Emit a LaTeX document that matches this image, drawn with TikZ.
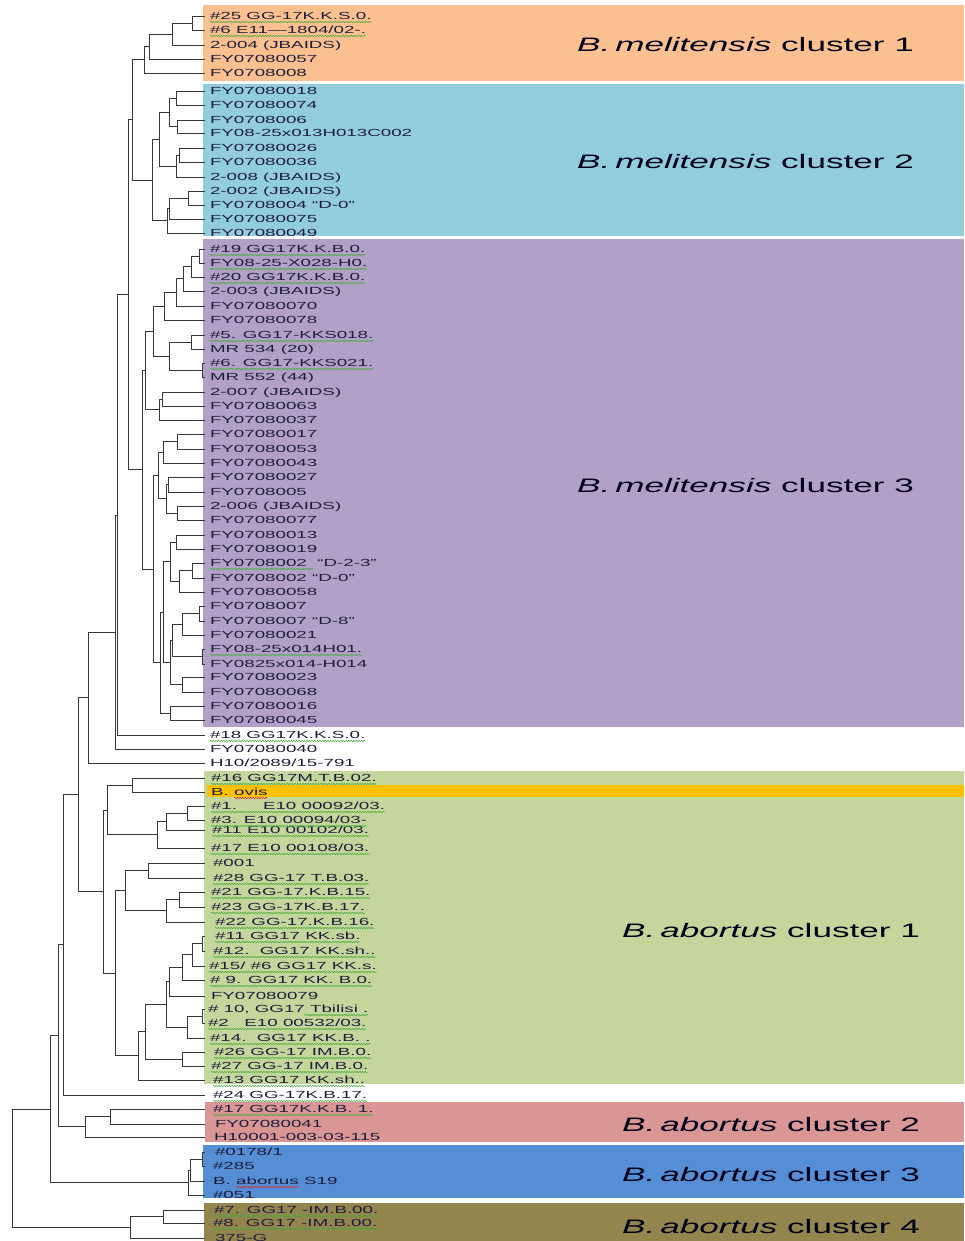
\documentclass[tikz,border=0pt]{standalone}
\usepackage{fontspec}
\usetikzlibrary{calc,decorations.pathmorphing}
\newfontfamily\labfont[FakeStretch=1.82]{Liberation Sans}
\newfontfamily\bigfont[FakeStretch=1.8]{Liberation Sans}
\definecolor{cM1}{RGB}{250,192,144}
\definecolor{cM2}{RGB}{146,205,220}
\definecolor{cM3}{RGB}{178,161,199}
\definecolor{cA1}{RGB}{195,214,155}
\definecolor{cOv}{RGB}{255,192,0}
\definecolor{cA2}{RGB}{217,150,148}
\definecolor{cA3}{RGB}{85,142,213}
\definecolor{cA4}{RGB}{146,133,78}
\definecolor{txtc}{RGB}{30,30,60}
\definecolor{linec}{RGB}{55,55,55}
\definecolor{sqgreen}{RGB}{70,170,60}
\definecolor{sqred}{RGB}{220,40,40}
\tikzset{
  br/.style={draw=linec, line width=0.75pt},
  lbl/.style={anchor=base west, inner sep=0pt, outer sep=0pt, text=txtc, font=\labfont\fontsize{10.3}{12}\selectfont},
  big/.style={anchor=base west, inner sep=0pt, text=black!90!blue, font=\bigfont\fontsize{19.5}{22}\selectfont},
  sqg/.style={draw=sqgreen, line width=0.5pt, decorate, decoration={snake, segment length=2.6pt, amplitude=0.7pt}},
  sqr/.style={draw=sqred, line width=0.5pt, decorate, decoration={snake, segment length=2.6pt, amplitude=0.7pt}},
}
% leaf: name, y, label x, text
\newcommand\mklv[4]{\coordinate (#1) at (205pt,-#2pt); \node[lbl] (#1l) at ([yshift=-3.7pt]#3pt,-#2pt) {#4};}
% clade: name, x, child1, child2
\newcommand\mkcl[4]{\path let \p1=(#3),\p2=(#4) in (#2pt,{0.5*\y1+0.5*\y2}) coordinate (#1); \draw[br] (#1) |- (#3) (#1) |- (#4);}
\newcommand\sqgl[1]{\draw[sqg] ([yshift=-2.3pt]#1.base west) -- ([yshift=-2.3pt]#1.base east);}
\newcommand\sqgp[3]{\draw[sqg] ([yshift=-2.3pt]$(#1.base west)!#2!(#1.base east)$) -- ([yshift=-2.3pt]$(#1.base west)!#3!(#1.base east)$);}
\begin{document}
\begin{tikzpicture}
\path[use as bounding box] (0,0) rectangle (964pt,-1241pt);
\fill[white] (0,0) rectangle (964pt,-1241pt);
% coloured cluster boxes
\fill[cM1] (203pt,-5pt) rectangle (964pt,-81pt);
\fill[cM2] (203pt,-84pt) rectangle (964pt,-236pt);
\fill[cM3] (203pt,-239pt) rectangle (964pt,-727pt);
\fill[cA1] (204pt,-771pt) rectangle (964pt,-1084pt);
\fill[cOv] (207pt,-785pt) rectangle (964pt,-797pt);
\fill[cA2] (205pt,-1102pt) rectangle (964pt,-1142pt);
\fill[cA3] (203pt,-1145pt) rectangle (964pt,-1198pt);
\fill[cA4] (204pt,-1203pt) rectangle (964pt,-1245pt);
% cluster titles
\node[big] (t1) at ([yshift=-7pt]577pt,-45pt) {\itshape B.\hspace{5pt}melitensis\upshape{} cluster 1};
\node[big] (t2) at ([yshift=-7pt]577pt,-162pt) {\itshape B.\hspace{5pt}melitensis\upshape{} cluster 2};
\node[big] (t3) at ([yshift=-7pt]577pt,-485pt) {\itshape B.\hspace{5pt}melitensis\upshape{} cluster 3};
\node[big] (t4) at ([yshift=-7pt]622pt,-930pt) {\itshape B.\hspace{5pt}abortus\upshape{} cluster 1};
\node[big] (t5) at ([yshift=-7pt]622pt,-1124pt) {\itshape B.\hspace{5pt}abortus\upshape{} cluster 2};
\node[big] (t6) at ([yshift=-7pt]622pt,-1174pt) {\itshape B.\hspace{5pt}abortus\upshape{} cluster 3};
\node[big] (t7) at ([yshift=-7pt]622pt,-1226pt) {\itshape B.\hspace{5pt}abortus\upshape{} cluster 4};
% leaves
\mklv{L1}{16}{210}{\#25 GG-17K.K.S.0.}
\mklv{L2}{30}{210}{\#6 E11—1804/02-.}
\mklv{L3}{45}{210}{2-004 (JBAIDS)}
\mklv{L4}{59}{210}{FY07080057}
\mklv{L5}{73}{210}{FY0708008}
\mklv{L6}{91}{210}{FY07080018}
\mklv{L7}{105}{210}{FY07080074}
\mklv{L8}{120}{210}{FY0708006}
\mklv{L9}{133}{210}{FY08-25x013H013C002}
\mklv{L10}{148}{210}{FY07080026}
\mklv{L11}{162}{210}{FY07080036}
\mklv{L12}{177}{210}{2-008 (JBAIDS)}
\mklv{L13}{191}{210}{2-002 (JBAIDS)}
\mklv{L14}{205}{210}{FY0708004 “D-0”}
\mklv{L15}{219}{210}{FY07080075}
\mklv{L16}{233}{210}{FY07080049}
\mklv{L17}{249}{210}{\#19 GG17K.K.B.0.}
\mklv{L18}{263}{210}{FY08-25-X028-H0.}
\mklv{L19}{277}{210}{\#20 GG17K.K.B.0.}
\mklv{L20}{291}{210}{2-003 (JBAIDS)}
\mklv{L21}{306}{210}{FY07080070}
\mklv{L22}{320}{210}{FY07080078}
\mklv{L23}{335}{210}{\#5. GG17-KKS018.}
\mklv{L24}{349}{210}{MR 534 (20)}
\mklv{L25}{363}{210}{\#6. GG17-KKS021.}
\mklv{L26}{377}{210}{MR 552 (44)}
\mklv{L27}{392}{210}{2-007 (JBAIDS)}
\mklv{L28}{406}{210}{FY07080063}
\mklv{L29}{420}{210}{FY07080037}
\mklv{L30}{434}{210}{FY07080017}
\mklv{L31}{449}{210}{FY07080053}
\mklv{L32}{463}{210}{FY07080043}
\mklv{L33}{477}{210}{FY07080027}
\mklv{L34}{492}{210}{FY0708005}
\mklv{L35}{506}{210}{2-006 (JBAIDS)}
\mklv{L36}{520}{210}{FY07080077}
\mklv{L37}{535}{210}{FY07080013}
\mklv{L38}{549}{210}{FY07080019}
\mklv{L39}{563}{210}{FY0708002\ \ “D-2-3”}
\mklv{L40}{578}{210}{FY0708002 “D-0”}
\mklv{L41}{592}{210}{FY07080058}
\mklv{L42}{606}{210}{FY0708007}
\mklv{L43}{621}{210}{FY0708007 “D-8”}
\mklv{L44}{635}{210}{FY07080021}
\mklv{L45}{649}{210}{FY08-25x014H01.}
\mklv{L46}{664}{210}{FY0825x014-H014}
\mklv{L47}{677}{210}{FY07080023}
\mklv{L48}{692}{210}{FY07080068}
\mklv{L49}{706}{210}{FY07080016}
\mklv{L50}{720}{210}{FY07080045}
\mklv{L51}{735}{210}{\#18 GG17K.K.S.0.}
\mklv{L52}{749}{210}{FY07080040}
\mklv{L53}{763}{210}{H10/2089/15-791}
\mklv{L54}{778}{211}{\#16 GG17M.T.B.02.}
\coordinate (L55) at (205pt,-792pt);
\node[lbl] (L55l) at ([yshift=-3.7pt]211pt,-792pt) {B.};
\node[lbl] (L55w) at ([xshift=5.5pt]L55l.base east) {ovis};
\mklv{L56}{806}{211}{\#1.\hspace{26pt}E10 00092/03.}
\mklv{L57}{820}{211}{\#3. E10 00094/03-}
\mklv{L58}{830}{212}{\#11 E10 00102/03.}
\mklv{L59}{848}{211}{\#17 E10 00108/03.}
\mklv{L60}{863}{213}{\#001}
\mklv{L61}{878}{213}{\#28 GG-17 T.B.03.}
\mklv{L62}{892}{211}{\#21 GG-17.K.B.15.}
\mklv{L63}{907}{211}{\#23 GG-17K.B.17.}
\mklv{L64}{922}{215}{\#22 GG-17.K.B.16.}
\mklv{L65}{936}{215}{\#11 GG17 KK.sb.}
\mklv{L66}{951}{213}{\#12.\ \ GG17 KK.sh..}
\mklv{L67}{966}{209}{\#15/ \#6 GG17 KK.s.}
\mklv{L68}{980}{210}{\# 9. GG17 KK. B.0.}
\mklv{L69}{996}{211}{FY07080079}
\mklv{L70}{1009}{208}{\# 10, GG17 Tbilisi .}
\mklv{L71}{1023}{208}{\#2\ \ \ E10 00532/03.}
\mklv{L72}{1038}{210}{\#14.\ \ GG17 KK.B. .}
\mklv{L73}{1052}{214}{\#26 GG-17 IM.B.0.}
\mklv{L74}{1066}{211}{\#27 GG-17 IM.B.0.}
\mklv{L75}{1080}{213}{\#13 GG17 KK.sh..}
\mklv{L76}{1095}{213}{\#24 GG-17K.B.17.}
\mklv{L77}{1109}{213}{\#17 GG17K.K.B. 1.}
\mklv{L78}{1124}{215}{FY07080041}
\mklv{L79}{1137}{214}{H10001-003-03-115}
\mklv{L80}{1152}{215}{\#0178/1}
\mklv{L81}{1166}{213}{\#285}
\coordinate (L82) at (205pt,-1181pt);
\node[lbl] (L82l) at ([yshift=-3.7pt]213pt,-1181pt) {B.};
\node[lbl] (L82w) at ([xshift=5.5pt]L82l.base east) {abortus};
\node[lbl] (L82s) at ([xshift=5.5pt]L82w.base east) {S19};
\mklv{L83}{1195}{213}{\#051}
\mklv{L84}{1210}{214}{\#7. GG17 -IM.B.00.}
\mklv{L85}{1223}{213}{\#8. GG17 -IM.B.00.}
\mklv{L86}{1238}{215}{375-G}
% squiggly underlines
\foreach \n in {L1l,L2l,L17l,L18l,L19l,L23l,L25l,L45l,L51l,L54l,L56l,L57l,L58l,L59l,L61l,L62l,L63l,L64l,L65l,L66l,L67l,L68l,L71l,L72l,L73l,L74l,L75l,L76l,L77l,L84l,L85l}{\sqgl{\n}}
\sqgp{L39l}{0}{0.62}
\sqgp{L70l}{0.6}{1}
\draw[sqr] ([yshift=-2.3pt]L55w.base west) -- ([yshift=-2.3pt]L55w.base east);
\draw[sqr] ([yshift=-2.3pt]L82w.base west) -- ([yshift=-2.3pt]L82w.base east);
% ---- tree ----
% melitensis 1
\mkcl{m1a}{192}{L1}{L2}
\mkcl{m1b}{172}{m1a}{L3}
\mkcl{m1c}{149}{m1b}{L4}
\mkcl{m1}{144}{m1c}{L5}
% melitensis 2
\mkcl{m2a}{176}{L6}{L7}
\mkcl{m2b}{177}{L8}{L9}
\mkcl{m2c}{169}{m2a}{m2b}
\mkcl{m2d}{179}{L10}{L11}
\mkcl{m2e}{176}{m2d}{L12}
\mkcl{m2f}{159}{m2c}{m2e}
\mkcl{m2g}{188}{L13}{L14}
\mkcl{m2h}{169}{m2g}{L15}
\mkcl{m2i}{167}{m2h}{L16}
\mkcl{m2}{152}{m2f}{m2i}
\mkcl{m12}{132}{m1}{m2}
% melitensis 3
\mkcl{g1a}{199}{L17}{L18}
\mkcl{g1b}{191}{g1a}{L19}
\mkcl{g1c}{183}{g1b}{L20}
\mkcl{g1d}{176}{g1c}{L21}
\mkcl{g1e}{164}{g1d}{L22}
\mkcl{g1f}{191}{L23}{L24}
\mkcl{g1g}{202}{L25}{L26}
\mkcl{g1h}{169}{g1f}{g1g}
\mkcl{g1}{153}{g1e}{g1h}
\mkcl{g2a}{162}{L27}{L28}
\mkcl{g2}{159}{g2a}{L29}
\mkcl{m3u}{145}{g1}{g2}
\mkcl{la}{177}{L30}{L31}
\mkcl{lb}{163}{la}{L32}
\mkcl{lc}{168}{L33}{L34}
\mkcl{ld}{177}{L35}{L36}
\mkcl{le}{166}{lc}{ld}
\mkcl{lf}{158}{lb}{le}
\mkcl{lg}{176}{L37}{L38}
\mkcl{lh}{192}{L39}{L40}
\mkcl{li}{179}{lh}{L41}
\mkcl{lj}{170}{lg}{li}
\mkcl{lk}{199}{L42}{L43}
\mkcl{ll}{182}{lk}{L44}
\mkcl{lm}{202}{L45}{L46}
\mkcl{ln}{172}{ll}{lm}
\mkcl{lo}{182}{L47}{L48}
\mkcl{lp}{170}{ln}{lo}
\mkcl{lq}{163}{lj}{lp}
\mkcl{lr}{170}{L49}{L50}
\mkcl{ls}{160}{lq}{lr}
\mkcl{m3l}{153}{lf}{ls}
\mkcl{m3}{142}{m3u}{m3l}
% ungrouped melitensis
\mkcl{n1}{128}{m12}{m3}
\mkcl{n2}{117}{n1}{L51}
\mkcl{n3}{115}{n2}{L52}
\mkcl{n4}{88}{n3}{L53}
% abortus 1
\mkcl{a1}{132}{L54}{L55}
\mkcl{a2}{187}{L56}{L57}
\mkcl{a3}{166}{a2}{L58}
\mkcl{a4}{157}{a3}{L59}
\mkcl{a5}{107}{a1}{a4}
\mkcl{a6}{148}{L60}{L61}
\mkcl{a7}{179}{L62}{L63}
\mkcl{a8}{166}{a7}{L64}
\mkcl{a9}{125}{a6}{a8}
\mkcl{b1}{202}{L65}{L66}
\mkcl{b2}{192}{b1}{L67}
\mkcl{b3}{182}{b2}{L68}
\mkcl{b4}{169}{b3}{L69}
\mkcl{b5}{202}{L70}{L71}
\mkcl{b6}{187}{b5}{L72}
\mkcl{b7}{166}{b4}{b6}
\mkcl{b8}{182}{L73}{L74}
\mkcl{b9}{145}{b7}{b8}
\mkcl{b10}{138}{b9}{L75}
\mkcl{a10}{115}{a9}{b10}
\mkcl{a11}{103}{a5}{a10}
\mkcl{n5}{78}{n4}{a11}
\mkcl{n6}{63}{n5}{L76}
% abortus 2
\mkcl{c1}{110}{L77}{L78}
\mkcl{c2}{85}{c1}{L79}
\mkcl{n7}{58}{n6}{c2}
% abortus 3
\mkcl{d1}{202}{L80}{L81}
\mkcl{d2}{190}{d1}{L82}
\mkcl{d3}{188}{d2}{L83}
\mkcl{n8}{50}{n7}{d3}
% abortus 4
\mkcl{e1}{163}{L84}{L85}
\mkcl{e2}{130}{e1}{L86}
\mkcl{root}{12}{n8}{e2}
\end{tikzpicture}
\end{document}
